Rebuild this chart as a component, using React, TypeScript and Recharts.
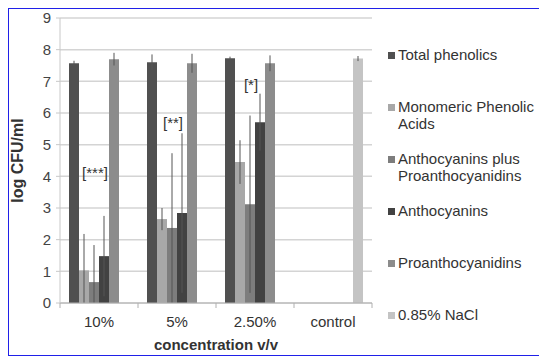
import React from "react";
import {Bar, BarChart, CartesianGrid, ErrorBar, Label, Legend, ReferenceDot, XAxis, YAxis} from "recharts";

const categories = ["10%", "5%", "2.50%", "control"];
const totalPhenolics = [7.57, 7.6, 7.73, null];
const totalPhenolicsErr = [0.08, 0.25, 0.05, null];
const monomeric = [1.03, 2.65, 4.45, null];
const monomericErr = [[1.03, 1.15], 0.35, 0.69, null];
const anthoPlusProantho = [0.66, 2.37, 3.12, null];
const anthoPlusProanthoErr = [[0.66, 1.17], [2.37, 2.36], 2.8, null];
const anthocyanins = [1.48, 2.84, 5.71, null];
const anthocyaninsErr = [1.27, 2.52, 0.9, null];
const proanthocyanidins = [7.7, 7.57, 7.57, null];
const proanthocyanidinsErr = [0.2, 0.3, 0.25, null];
const nacl = [null, null, null, 7.72];
const naclErr = [null, null, null, 0.08];
const sigLabels = ["[***]", "[**]", "[*]"];
const sigLevels = [4.1, 5.7, 6.9];
const yTicks = [0, 1, 2, 3, 4, 5, 6, 7, 8, 9];

const FONT = "'Liberation Sans', Arial, sans-serif";

const data = categories.map((c, i) => ({
    name: c,
    tp: totalPhenolics[i], tpErr: totalPhenolicsErr[i],
    mpa: monomeric[i], mpaErr: monomericErr[i],
    app: anthoPlusProantho[i], appErr: anthoPlusProanthoErr[i],
    ant: anthocyanins[i], antErr: anthocyaninsErr[i],
    pro: proanthocyanidins[i], proErr: proanthocyanidinsErr[i],
    nacl: nacl[i], naclErr: naclErr[i],
}));

const series = [
    {key: "tp", name: "Total phenolics", color: "#505050", lines: ["Total phenolics"]},
    {key: "mpa", name: "Monomeric Phenolic Acids", color: "#a8a8a8", lines: ["Monomeric Phenolic", "Acids"]},
    {key: "app", name: "Anthocyanins plus Proanthocyanidins", color: "#7d7d7d", lines: ["Anthocyanins plus", "Proanthocyanidins"]},
    {key: "ant", name: "Anthocyanins", color: "#424242", lines: ["Anthocyanins"]},
    {key: "pro", name: "Proanthocyanidins", color: "#8c8c8c", lines: ["Proanthocyanidins"]},
    {key: "nacl", name: "0.85% NaCl", color: "#c4c4c4", lines: ["0.85% NaCl"]},
];

const CategoryTick = (props: any) => {
    const {x, y, payload, width, visibleTicksCount, index} = props;
    const bw = width / visibleTicksCount;
    return (
        <g>
            <line x1={x - bw / 2} x2={x - bw / 2} y1={y - 8} y2={y - 3} stroke="#b0b0b0"/>
            {index === visibleTicksCount - 1 &&
                <line x1={x + bw / 2} x2={x + bw / 2} y1={y - 8} y2={y - 3} stroke="#b0b0b0"/>}
            <text x={x} y={y + 16} textAnchor="middle" fontSize={15} fill="#333" fontFamily={FONT}>{payload.value}</text>
        </g>
    );
};

// significance marker, drawn at the reference dot's position
const sigLabel = (text: string) => (props: any) => {
    const vb = props.viewBox || {};
    const cx = (vb.x ?? 0) + (vb.width ?? 0) / 2 - 4;
    const cy = (vb.y ?? 0) + (vb.height ?? 0) / 2;
    return (
        <text x={cx} y={cy} dy="0.35em" textAnchor="middle" fontSize={15} fill="#333" fontFamily={FONT}>{text}</text>
    );
};

const LegendBox = () => (
    <div style={{fontFamily: FONT, fontSize: 15, color: "#333", lineHeight: "17px"}}>
        {series.map(s => (
            <div key={s.key} style={{height: 52, position: "relative"}}>
                <span style={{position: "absolute", left: 0, top: 6, width: 7, height: 7, background: s.color}}/>
                {s.lines.map((l, j) => (
                    <div key={j} style={{paddingLeft: 10, whiteSpace: "nowrap"}}>{l}</div>
                ))}
            </div>
        ))}
    </div>
);

export default function App() {
    return (
        <div style={{position: "absolute", left: 0, top: 0, width: 539, height: 358, overflow: "hidden", background: "#fff"}}>
            <div style={{position: "absolute", left: 8, top: 8, width: 560, height: 346, border: "1.5px solid #2020e8"}}/>
            <BarChart width={539} height={358} data={data} barCategoryGap={9} barGap={0}
                      margin={{top: 18, right: 167, left: 8, bottom: 5}}
                      style={{fontFamily: FONT}}>
                <CartesianGrid vertical={false} stroke="#d4d4d4" strokeWidth={1.5}/>
                <XAxis dataKey="name" height={50} axisLine={{stroke: "#b0b0b0"}} tickLine={false}
                       interval={0} tick={<CategoryTick/>}>
                    <Label value="concentration v/v" position="insideBottom" offset={3}
                           style={{fontSize: 15, fontWeight: "bold", fill: "#333", fontFamily: FONT}}/>
                </XAxis>
                <YAxis width={52} domain={[0, 9]} ticks={yTicks} interval={0} axisLine={{stroke: "#c8c8c8"}}
                       tickLine={{stroke: "#c8c8c8"}} tickSize={4} tickMargin={5}
                       tick={{fontSize: 15, fill: "#444", fontFamily: FONT}}>
                    <Label value="log CFU/ml" angle={-90} position="center" dx={-17}
                           style={{fontSize: 16, fontWeight: "bold", fill: "#333", textAnchor: "middle", fontFamily: FONT}}/>
                </YAxis>
                {series.map(s => (
                    <Bar key={s.key} dataKey={s.key} name={s.name} fill={s.color} isAnimationActive={false}>
                        <ErrorBar dataKey={s.key + "Err"} width={0} stroke="#555" strokeWidth={1}/>
                    </Bar>
                ))}
                {sigLabels.map((t, i) => (
                    <ReferenceDot key={t} x={categories[i]} y={sigLevels[i]} r={0} stroke="none" fill="none"
                                  label={{content: sigLabel(t)}}/>
                ))}
                <Legend layout="vertical" align="center" verticalAlign="middle" content={<LegendBox/>}
                        wrapperStyle={{left: 388, top: 46, width: 160, height: 310}}/>
            </BarChart>
        </div>
    );
}
